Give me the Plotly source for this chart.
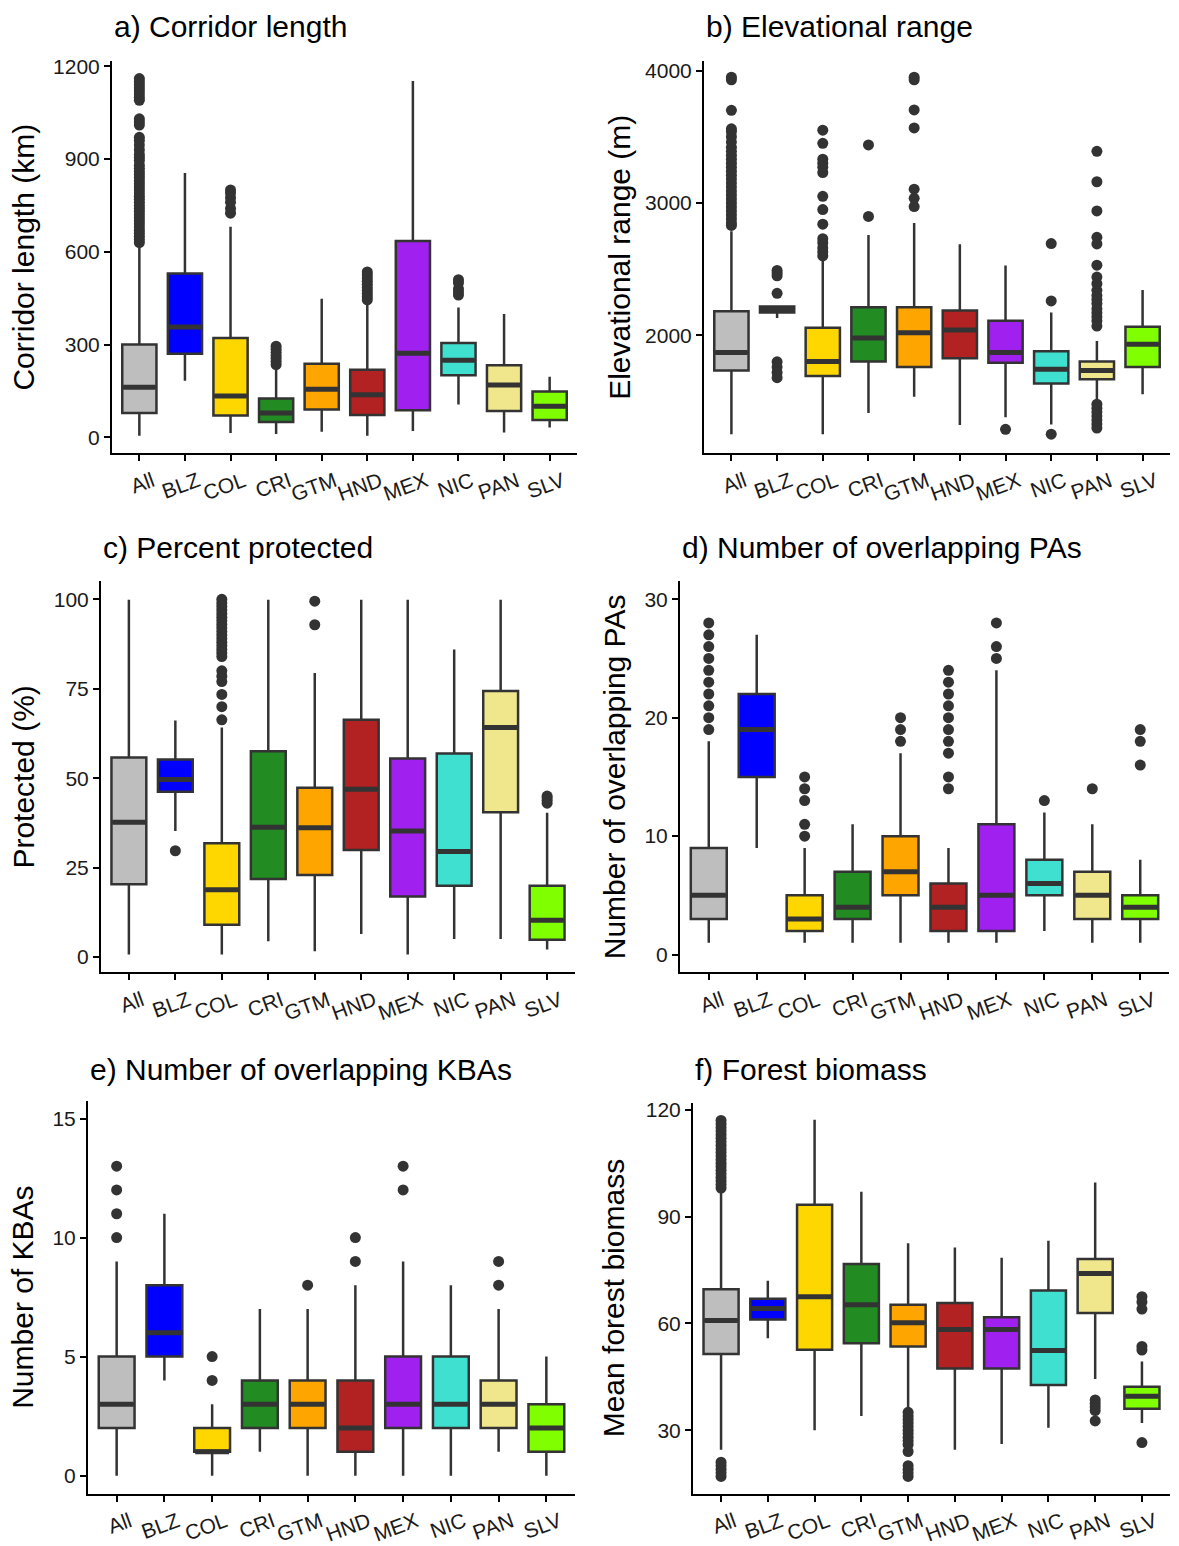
import plotly.graph_objects as go

W, H = 1179, 1546

countries = ["All", "BLZ", "COL", "CRI", "GTM", "HND", "MEX", "NIC", "PAN", "SLV"]
box_colors = ["#BEBEBE", "#0000FF", "#FFD700", "#228B22", "#FFA500",
              "#B22222", "#A020F0", "#40E0D0", "#F0E68C", "#7FFF00"]

# a) Corridor length (km)
len_q1 = [79, 270, 71, 50, 90, 72, 88, 201, 85, 56]
len_med = [162, 357, 134, 79, 156, 138, 272, 249, 169, 101]
len_q3 = [300, 530, 321, 126, 238, 219, 635, 305, 233, 148]
len_lo = [5, 183, 14, 11, 18, 5, 21, 106, 16, 32]
len_hi = [615, 855, 681, 222, 448, 430, 1152, 420, 399, 196]
len_out = {
    "All": [630, 640, 650, 660, 670, 680, 690, 700, 710, 720, 730, 740, 750, 760, 770,
            780, 790, 800, 810, 820, 830, 840, 850, 860, 870, 880, 895, 905, 915, 930,
            945, 960, 970, 1010, 1020, 1030, 1090, 1100, 1110, 1120, 1130, 1140, 1150, 1160],
    "COL": [725, 740, 760, 775, 790, 800],
    "CRI": [235, 245, 255, 265, 275, 285, 295],
    "HND": [445, 455, 465, 475, 485, 495, 505, 515, 525, 535],
    "NIC": [460, 470, 480, 500, 510],
}

# b) Elevational range (m)
elev_q1 = [1735, 2173, 1693, 1802, 1760, 1827, 1792, 1636, 1668, 1760]
elev_med = [1871, 2195, 1802, 1980, 2020, 2040, 1871, 1743, 1735, 1933]
elev_q3 = [2181, 2218, 2057, 2213, 2213, 2188, 2111, 1879, 1802, 2064]
elev_lo = [1253, 2131, 1253, 1413, 1537, 1322, 1381, 1327, 1500, 1555]
elev_hi = [2787, 2218, 2569, 2757, 2849, 2688, 2527, 2173, 1958, 2342]
elev_out = {
    "All": [2830, 2850, 2880, 2910, 2940, 2970, 3000, 3030, 3060, 3090, 3120, 3150, 3180,
            3210, 3240, 3270, 3300, 3330, 3360, 3390, 3420, 3460, 3500, 3540, 3560, 3700,
            3930, 3950],
    "BLZ": [2317, 2450, 2470, 2490, 1800, 1760, 1720, 1680],
    "COL": [2600, 2630, 2660, 2700, 2730, 2840, 2950, 3050, 3230, 3270, 3300, 3330, 3450, 3550],
    "CRI": [2898, 3438],
    "GTM": [2973, 3035, 3104, 3567, 3703, 3930, 3950],
    "MEX": [1290],
    "NIC": [2260, 2693, 1253],
    "PAN": [2070, 2110, 2140, 2170, 2200, 2240, 2270, 2300, 2340, 2390, 2440, 2530, 2690,
            2740, 2940, 3160, 3390, 1480, 1450, 1420, 1390, 1360, 1330, 1300],
}

# c) Percent protected
prot_q1 = [20.3, 46.2, 9.0, 21.8, 22.9, 29.9, 16.9, 19.9, 40.5, 4.8]
prot_med = [37.7, 49.6, 18.8, 36.3, 36.1, 46.9, 35.2, 29.5, 64.2, 10.3]
prot_q3 = [55.8, 55.2, 31.8, 57.5, 47.3, 66.3, 55.5, 56.9, 74.4, 19.9]
prot_lo = [0.7, 35.2, 0.7, 4.4, 1.6, 6.4, 0.7, 5.0, 5.0, 2.1]
prot_hi = [99.9, 66.1, 64.2, 99.9, 79.4, 99.9, 99.9, 86.0, 99.9, 40.3]
prot_out = {
    "BLZ": [29.7],
    "COL": [66.3, 70, 73.4, 77, 78.5, 80, 84, 85, 86, 87, 88, 89, 90, 91, 92, 93, 94, 95,
            96, 97, 98, 99, 100],
    "GTM": [92.9, 99.5],
    "SLV": [43, 43.8, 44.5, 45],
}

# d) Number of overlapping PAs
pa_q1 = [3, 15, 2, 3, 5, 2, 2, 5, 3, 3]
pa_med = [5, 19, 3, 4, 7, 4, 5, 6, 5, 4]
pa_q3 = [9, 22, 5, 7, 10, 6, 11, 8, 7, 5]
pa_lo = [1, 9, 1, 1, 1, 1, 1, 2, 1, 1]
pa_hi = [18, 27, 9, 11, 17, 9, 24, 12, 11, 8]
pa_out = {
    "All": [19, 20, 21, 22, 23, 24, 25, 26, 27, 28],
    "COL": [10, 11, 13, 14, 15],
    "GTM": [18, 19, 20],
    "HND": [14, 15, 17, 18, 19, 20, 21, 22, 23, 24],
    "MEX": [25, 26, 28],
    "NIC": [13],
    "PAN": [14],
    "SLV": [16, 18, 19],
}

# e) Number of overlapping KBAs
kba_q1 = [2, 5, 1, 2, 2, 1, 2, 2, 2, 1]
kba_med = [3, 6, 1, 3, 3, 2, 3, 3, 3, 2]
kba_q3 = [5, 8, 2, 4, 4, 4, 5, 5, 4, 3]
kba_lo = [0, 4, 0, 1, 0, 0, 0, 0, 1, 0]
kba_hi = [9, 11, 3, 7, 7, 8, 9, 8, 7, 5]
kba_out = {
    "All": [10, 11, 12, 13],
    "COL": [4, 5],
    "GTM": [8],
    "HND": [9, 10],
    "MEX": [12, 13],
    "PAN": [8, 9],
}

# f) Mean forest biomass
bio_q1 = [51.4, 61.1, 52.6, 54.4, 53.5, 47.3, 47.3, 42.7, 62.9, 36.0]
bio_med = [60.8, 64.2, 67.5, 65.2, 60.2, 58.3, 58.3, 52.4, 74.0, 39.5]
bio_q3 = [69.6, 66.9, 93.3, 76.7, 65.2, 65.7, 61.7, 69.2, 78.1, 42.2]
bio_lo = [24.5, 55.8, 30.0, 34.0, 35.8, 24.5, 26.1, 30.7, 44.4, 32.0]
bio_hi = [97.0, 72.0, 117.2, 97.0, 82.5, 81.3, 78.4, 83.2, 99.6, 49.3]
bio_out = {
    "All": [98, 99, 100, 101, 102, 103, 104, 105, 106, 107, 108, 109, 110, 111, 112, 113,
            114, 115, 116, 117, 17, 18, 19, 20, 21],
    "GTM": [35, 34, 33, 32, 31, 30, 29, 28, 27, 26, 24, 20, 19, 18, 17],
    "PAN": [38.5, 37.5, 36.5, 35.5, 32.6],
    "SLV": [67.5, 66, 64, 53.5, 52.5, 26.5],
}

panels = [
    dict(title="a) Corridor length", ytitle="Corridor length (km)",
         q1=len_q1, med=len_med, q3=len_q3, lo=len_lo, hi=len_hi, out=len_out,
         yrange=[-51, 1216], ticks=[0, 300, 600, 900, 1200],
         box=(112, 577, 55, 452), standoff=10, base=30),
    dict(title="b) Elevational range", ytitle="Elevational range (m)",
         q1=elev_q1, med=elev_med, q3=elev_q3, lo=elev_lo, hi=elev_hi, out=elev_out,
         yrange=[1110, 4070], ticks=[2000, 3000, 4000],
         box=(704, 1170, 55, 452), standoff=6, base=30),
    dict(title="c) Percent protected", ytitle="Protected (%)",
         q1=prot_q1, med=prot_med, q3=prot_q3, lo=prot_lo, hi=prot_hi, out=prot_out,
         yrange=[-4.3, 105], ticks=[0, 25, 50, 75, 100],
         box=(101, 575, 582, 978), standoff=10, base=558),
    dict(title="d) Number of overlapping PAs", ytitle="Number of overlapping PAs",
         q1=pa_q1, med=pa_med, q3=pa_q3, lo=pa_lo, hi=pa_hi, out=pa_out,
         yrange=[-1.5, 31.5], ticks=[0, 10, 20, 30],
         box=(680, 1169, 582, 978), standoff=10, base=558),
    dict(title="e) Number of overlapping KBAs", ytitle="Number of KBAs",
         q1=kba_q1, med=kba_med, q3=kba_q3, lo=kba_lo, hi=kba_hi, out=kba_out,
         yrange=[-0.75, 15.75], ticks=[0, 5, 10, 15],
         box=(88, 575, 1108, 1506), standoff=10, base=1087),
    dict(title="f) Forest biomass", ytitle="Mean forest biomass",
         q1=bio_q1, med=bio_med, q3=bio_q3, lo=bio_lo, hi=bio_hi, out=bio_out,
         yrange=[12.2, 122], ticks=[30, 60, 90, 120],
         box=(693, 1170, 1110, 1506), standoff=12, base=1087),
]

FONT = "Arial, 'Liberation Sans', sans-serif"
EDGE = "#333333"
BOX_W = 0.75

fig = go.Figure()
layout = dict(width=W, height=H, margin=dict(l=0, r=0, t=0, b=0),
              paper_bgcolor="white", plot_bgcolor="white", showlegend=False,
              font=dict(family=FONT, color="black"))
annotations = []

for k, p in enumerate(panels):
    n = k + 1
    xa = "x" if n == 1 else f"x{n}"
    ya = "y" if n == 1 else f"y{n}"
    xl, xr, yt, yb = p["box"]
    pos = list(range(len(countries)))

    for i, c in enumerate(countries):
        fig.add_trace(go.Box(
            x=[pos[i]], q1=[p["q1"][i]], median=[p["med"][i]], q3=[p["q3"][i]],
            lowerfence=[p["lo"][i]], upperfence=[p["hi"][i]],
            width=BOX_W, whiskerwidth=0, fillcolor=box_colors[i],
            line=dict(color=EDGE, width=2.5), boxpoints=False,
            xaxis=xa, yaxis=ya, hoverinfo="skip"))
    # thicker median bars (ggplot fatten)
    mx, my = [], []
    for i in range(len(countries)):
        mx += [pos[i] - BOX_W / 2 + 0.02, pos[i] + BOX_W / 2 - 0.02, None]
        my += [p["med"][i], p["med"][i], None]
    fig.add_trace(go.Scatter(x=mx, y=my, mode="lines", line=dict(color=EDGE, width=5),
                             xaxis=xa, yaxis=ya, hoverinfo="skip"))
    # outliers
    ox, oy = [], []
    for i, c in enumerate(countries):
        for v in p["out"].get(c, []):
            ox.append(pos[i])
            oy.append(v)
    fig.add_trace(go.Scatter(x=ox, y=oy, mode="markers",
                             marker=dict(color=EDGE, size=11, line=dict(width=0)),
                             xaxis=xa, yaxis=ya, hoverinfo="skip"))

    xkey = "xaxis" if n == 1 else f"xaxis{n}"
    ykey = "yaxis" if n == 1 else f"yaxis{n}"
    layout[xkey] = dict(
        domain=[xl / W, xr / W], anchor=ya, range=[-0.6, 9.6],
        tickmode="array", tickvals=pos, ticktext=countries, tickangle=-20,
        ticks="outside", ticklen=6, tickwidth=1.8, tickcolor="black",
        showline=True, linecolor="black", linewidth=2, showgrid=False, zeroline=False,
        tickfont=dict(size=21, color="#1a1a1a", family=FONT), ticklabelshift=13,
        fixedrange=True)
    layout[ykey] = dict(
        domain=[1 - yb / H, 1 - yt / H], anchor=xa, range=p["yrange"],
        tickmode="array", tickvals=p["ticks"],
        ticks="outside", ticklen=6, tickwidth=1.8, tickcolor="black",
        showline=True, linecolor="black", linewidth=2, showgrid=False, zeroline=False,
        tickfont=dict(size=21, color="#1a1a1a", family=FONT),
        title=dict(text=p["ytitle"], font=dict(size=30, family=FONT, color="black"),
                   standoff=p["standoff"]),
        fixedrange=True)
    annotations.append(dict(
        text=p["title"], x=xl / W, y=1 - (p["base"] + 8) / H,
        xref="paper", yref="paper", xanchor="left", yanchor="bottom",
        showarrow=False, font=dict(size=30, family=FONT, color="black")))

layout["annotations"] = annotations
fig.update_layout(**layout)
fig.write_html("out.html")
